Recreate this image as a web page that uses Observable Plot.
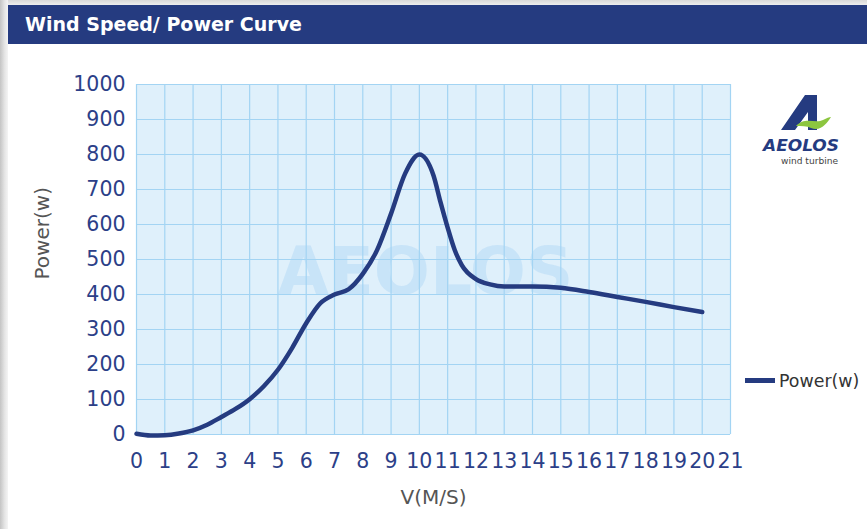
<!DOCTYPE html>
<html><head><meta charset="utf-8">
<script src="https://cdn.jsdelivr.net/npm/d3@7"></script>
<script src="https://cdn.jsdelivr.net/npm/@observablehq/plot@0.6"></script>
<style>
body{margin:0;background:#fff;}
#wrap{position:relative;width:867px;height:529px;overflow:hidden;background:#fff;font-family:"DejaVu Sans",sans-serif;}
#topstrip{position:absolute;left:0;top:0;width:867px;height:5px;background:linear-gradient(#d8d8d8,#eeeeee);}
#leftshadow{position:absolute;left:0;top:0;width:8px;height:529px;background:linear-gradient(90deg,#c4c4c4,#e6e6e6 60%,#f4f4f4);}
#titlebar{position:absolute;left:8px;top:5px;width:859px;height:39px;background:#253b80;color:#fff;font-weight:bold;font-size:19px;line-height:39px;padding-left:17px;box-sizing:border-box;z-index:2;}
#chart{position:absolute;left:0;top:0;}
#legend{position:absolute;left:745px;top:369px;font-size:17.4px;color:#333;line-height:24px;white-space:nowrap;}
#legend .sw{display:inline-block;width:30px;height:5px;background:#253b80;vertical-align:middle;margin-right:4px;position:relative;top:-2px;}
#logo{position:absolute;left:755px;top:90px;}
</style></head><body>
<div id="wrap">
  <div id="topstrip"></div>
  <div id="leftshadow"></div>
  <div id="titlebar">Wind Speed/ Power Curve</div>
  <div id="chart"></div>
  <div id="legend"><span class="sw"></span>Power(w)</div>
  <svg id="logo" width="100" height="80" viewBox="0 0 100 80">
    <polygon points="26,40 50,5 62,5 62,40 53,40 53,22 40,40" fill="#253b80"/>
    <path d="M41,36 C50,26 60,34 68,30 C72,28 74,27 76,27 C72,33 66,42 56,38 C52,36 46,36 41,36 Z" fill="#8cc63f"/>
    <text x="8" y="61" font-family="DejaVu Sans" font-weight="bold" font-style="italic" font-size="15.5" fill="#253b80" textLength="76" lengthAdjust="spacingAndGlyphs">AEOLOS</text>
    <text x="26" y="74" font-family="DejaVu Sans" font-size="8.5" fill="#444" textLength="57" lengthAdjust="spacingAndGlyphs">wind turbine</text>
  </svg>
</div>
<script>
const windSpeed = [0,0.5,1,1.5,2,2.5,3,3.5,4,4.5,5,5.5,6,6.5,7,7.5,8,8.5,9,9.5,10,10.5,10.75,11,11.25,11.5,12,12.5,13,14,15,16,17,18,19,20];
const power     = [2,-3,-2,3,12,28,50,73,101,138,185,247,318,375,400,415,459,526,631,746,800,740,663,591,527,484,444,429,423,423,419,407,393,379,364,350];
const xTicks = d3.range(0, 22, 1);
const yTicks = d3.range(0, 1001, 100);
const seriesName = "Power(w)";
const xLabel = "V(M/S)";
const yLabel = "Power(w)";
const watermark = "AEOLOS";

const data = windSpeed.map((v, i) => ({v, p: power[i]}));

const chart = Plot.plot({
  width: 867,
  height: 529,
  marginLeft: 136,
  marginRight: 137,
  marginTop: 84,
  marginBottom: 95,
  style: {fontFamily: "DejaVu Sans", fontSize: "20.5px", color: "#2c3f88", background: "transparent", overflow: "visible"},
  x: {domain: [0, 21]},
  y: {domain: [0, 1000]},
  marks: [
    Plot.frame({fill: "#dff0fb", stroke: null}),
    Plot.text([watermark], {frameAnchor: "middle", dx: -8, dy: 13, text: d => d, fontSize: 66, fontWeight: 900, fill: "#c6e3f8", fillOpacity: 0.95}),
    Plot.gridX(xTicks, {stroke: "#a3d4f3", strokeOpacity: 1, strokeWidth: 1.2}),
    Plot.gridY(yTicks, {stroke: "#a3d4f3", strokeOpacity: 1, strokeWidth: 1.2}),
    Plot.axisX(xTicks, {tickSize: 0, tickPadding: 19, label: null, fill: "#2c3f88", tickFormat: d => String(d)}),
    Plot.axisY(yTicks, {tickSize: 0, tickPadding: 11, label: null, fill: "#2c3f88", tickFormat: d => String(d)}),
    Plot.text([xLabel], {frameAnchor: "bottom", dy: 63, text: d => d, fontSize: 20, fill: "#555", lineAnchor: "middle"}),
    Plot.text([yLabel], {frameAnchor: "left", dx: -94, dy: 20, rotate: -90, text: d => d, fontSize: 20, fill: "#555", lineAnchor: "middle"}),
    Plot.line(data, {x: "v", y: "p", stroke: "#253b80", strokeWidth: 4.5, curve: "monotone-x"})
  ]
});
document.getElementById("chart").appendChild(chart);
</script>
</body></html>
